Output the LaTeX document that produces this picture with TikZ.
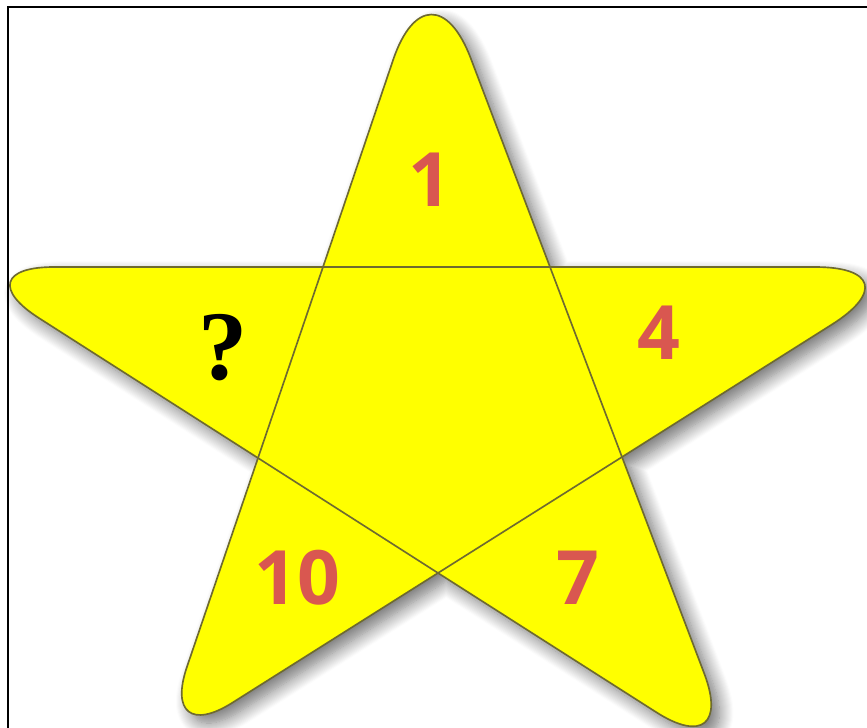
\documentclass[tikz,border=0pt]{standalone}
\usepackage{fontspec}
\usepackage{tikz}
\usetikzlibrary{calc,shadows.blur}
\newfontfamily\numfont{Open Sans}
\newfontfamily\questfont{Liberation Serif}
\definecolor{starYellow}{HTML}{FFFF00}
\definecolor{starLine}{HTML}{6E6A30}
\definecolor{numRed}{HTML}{D95750}
\tikzset{
  starfill/.style={fill=starYellow, draw=starLine, line width=1.4pt, line join=round},
  starshadow/.style={blur shadow={shadow xshift=7pt, shadow yshift=-7pt, shadow blur radius=12pt, shadow blur steps=14, shadow opacity=55}},
  innerline/.style={draw=starLine, line width=1.4pt},
  num/.style={text=numRed, font=\numfont\bfseries\fontsize{64}{64}\selectfont, inner sep=0pt},
  quest/.style={text=black, font=\questfont\bfseries\fontsize{84}{84}\selectfont, inner sep=0pt},
  frame/.style={draw=black, line width=2.4pt}
}
% rounded star tip: tip, from, to, cut, control
\newcommand{\starTip}[5]{-- ($(#1)!#4!(#2)$) .. controls ($(#1)!#5!(#2)$) and ($(#1)!#5!(#3)$) .. ($(#1)!#4!(#3)$)}

\begin{document}
\begin{tikzpicture}[x=0.03cm, y=-0.03cm]
\useasboundingbox (0,0) rectangle (867,728);
\clip (0,0) rectangle (867,728);
% outer tips and inner corners
\coordinate (tT) at (430,-49);
\coordinate (tR) at (923,267);
\coordinate (tBR) at (739,765);
\coordinate (tBL) at (159,749);
\coordinate (tL) at (-41,267);
\coordinate (iTL) at (323,267);
\coordinate (iTR) at (550,267);
\coordinate (iR) at (622,457);
\coordinate (iB) at (438,573);
\coordinate (iL) at (258,458);
% star
\path[starshadow, starfill] (iTL)
  \starTip{tT}{iTL}{iTR}{3.45cm}{1.55cm} -- (iTR)
  \starTip{tR}{iTR}{iR}{3.24cm}{1.45cm} -- (iR)
  \starTip{tBR}{iR}{iB}{2.94cm}{1.32cm} -- (iB)
  \starTip{tBL}{iB}{iL}{2.6cm}{1.16cm} -- (iL)
  \starTip{tL}{iL}{iTL}{2.85cm}{1.28cm} -- cycle;
\draw[innerline] (iTL) -- (iTR) -- (iR) -- (iB) -- (iL) -- cycle;
% labels
\node[num] (n1) at (430,180) {1};
\node[num] (n4) at (659,333) {4};
\node[num] (n10) at (297,578) {10};
\node[num] (n7) at (578,578) {7};
\node[quest] (q) at (223,348) {?};
% frame
\draw[frame] (8,740) -- (8,7) -- (880,7);
\end{tikzpicture}
\end{document}
